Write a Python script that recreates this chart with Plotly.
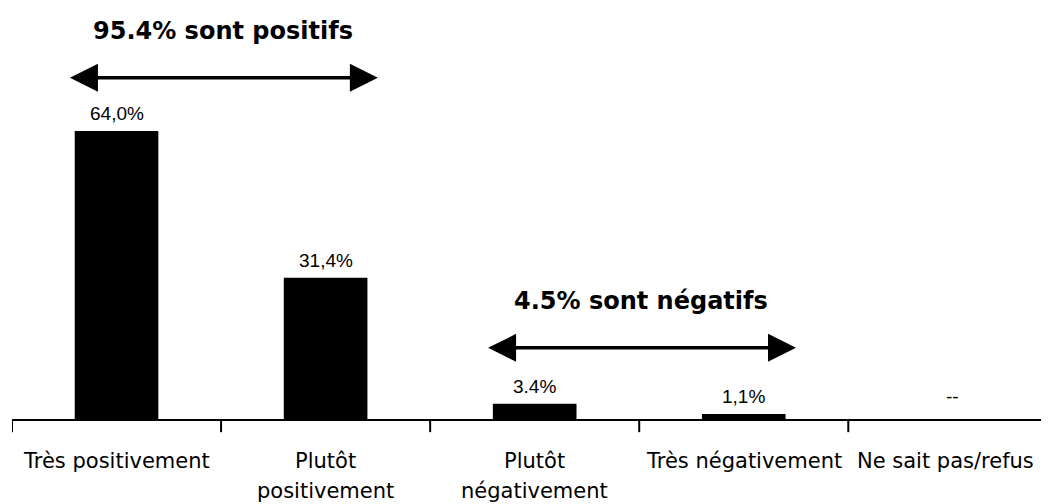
import plotly.graph_objects as go

categories = ["Très positivement", "Plutôt<br>positivement", "Plutôt<br>négativement",
              "Très négativement", "Ne sait pas/refus"]
values = [64.0, 31.4, 3.4, 1.1, 0.0]
value_labels = ["64,0%", "31,4%", "3.4%", "1,1%", "--"]

group_labels = ["95.4% sont positifs", "4.5% sont négatifs"]
group_spans = [(0, 1), (2, 3)]  # category index ranges
group_levels = [75.8, 15.8]     # arrow heights (in % units)

fig = go.Figure()
fig.add_trace(go.Bar(
    x=list(range(len(categories))), y=values,
    marker=dict(color="black", line=dict(width=0)),
    width=0.4, hoverinfo="skip",
))

annotations = []
for i, (v, lab) in enumerate(zip(values, value_labels)):
    annotations.append(dict(
        x=i, y=v, xref="x", yref="y", text=lab, showarrow=False,
        yanchor="bottom", yshift=5 if v > 0 else 10,
        font=dict(family="Liberation Sans, Arial", size=19, color="black"),
    ))

# category labels (drawn as text so the line spacing matches)
n = len(categories)
for i, cat in enumerate(categories):
    for j, line in enumerate(cat.split("<br>")):
        annotations.append(dict(
            x=i, y=0, xref="x", yref="paper", text=line, showarrow=False,
            yanchor="middle", yshift=-(42 + 30 * j),
            xshift=-7 if i == n - 1 else 0,
            font=dict(family="DejaVu Sans", size=21, color="black"),
        ))

for (a, b), lvl, txt in zip(group_spans, group_levels, group_labels):
    x0 = a - 0.23
    x1 = b + 0.25
    # double-headed arrow
    annotations.append(dict(
        x=x1, y=lvl, ax=x0, ay=lvl, xref="x", yref="y", axref="x", ayref="y",
        text="", showarrow=True, arrowhead=2, startarrowhead=2,
        arrowside="end+start", arrowsize=1.6, startarrowsize=1.6,
        arrowwidth=3.5, arrowcolor="black",
    ))
    annotations.append(dict(
        x=(x0 + x1) / 2, y=lvl, xref="x", yref="y", text="<b>" + txt + "</b>",
        showarrow=False, yanchor="middle", yshift=47,
        font=dict(family="DejaVu Sans", size=24, color="black"),
    ))

# the page body adds an 8px offset, so the figure is sized to fit the window
fig.update_layout(
    width=1041, height=496,
    margin=dict(l=4, r=0, t=0, b=85),
    paper_bgcolor="white", plot_bgcolor="white",
    showlegend=False,
    annotations=annotations,
)
fig.update_xaxes(
    type="linear", range=[-0.5, 4.46], automargin=False,
    showticklabels=False,
    showline=True, linecolor="black", linewidth=2,
    ticks="", showgrid=False, zeroline=False,
)
# boundary ticks
for k in range(n):
    fig.add_shape(type="line", xref="x", yref="paper",
                  x0=k - 0.5, x1=k - 0.5, y0=0, y1=-0.032,
                  line=dict(color="black", width=2))
fig.update_yaxes(range=[0, 91.3], visible=False, showgrid=False,
                 zeroline=False, automargin=False)

fig.write_html("out.html")
